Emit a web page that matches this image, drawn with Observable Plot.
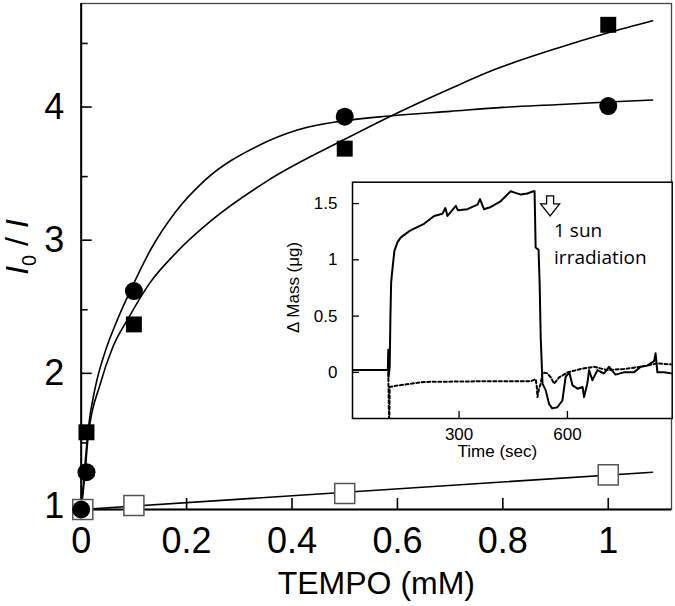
<!DOCTYPE html>
<html><head><meta charset="utf-8">
<script src="https://cdn.jsdelivr.net/npm/d3@7"></script>
<script src="https://cdn.jsdelivr.net/npm/@observablehq/plot@0.6"></script>
<style>
body{margin:0;background:#fff;}
#wrap{position:relative;width:675px;height:606px;overflow:hidden;}
#wrap svg{position:absolute;}
</style></head><body><div id="wrap"></div>
<script>
// ---- main chart data ----
const circleTempo = [0, 0.01, 0.1, 0.5, 1];
const circleRatio = [1.0, 1.28, 2.64, 3.95, 4.03];
const squareTempo = [0.01, 0.1, 0.5, 1];
const squareRatio = [1.58, 2.39, 3.71, 4.64];
const openTempo = [0.003, 0.1, 0.5, 1];
const openRatio = [1.0, 1.03, 1.12, 1.26];

const circleFitX = [0, 0.006, 0.0126, 0.028, 0.045, 0.066, 0.1, 0.133, 0.18, 0.234, 0.335, 0.41, 0.5, 0.585, 0.7, 0.8, 0.9, 1.0, 1.084];
const circleFitY = [1.0, 1.28, 1.58, 1.94, 2.18, 2.40, 2.70, 2.96, 3.24, 3.47, 3.73, 3.85, 3.92, 3.955, 3.99, 4.02, 4.04, 4.06, 4.075];
const squareFitX = [0, 0.007, 0.0135, 0.036, 0.06, 0.09, 0.13, 0.183, 0.25, 0.354, 0.5, 0.585, 0.7, 0.782, 0.9, 1.0, 1.084];
const squareFitY = [1.0, 1.26, 1.56, 1.94, 2.22, 2.44, 2.70, 2.94, 3.18, 3.47, 3.78, 3.95, 4.16, 4.30, 4.46, 4.58, 4.67];
const openFitX = [0, 1.084];
const openFitY = [1.0, 1.28];

const xTicks = [0, 0.2, 0.4, 0.6, 0.8, 1];
const xTickLabels = ["0", "0.2", "0.4", "0.6", "0.8", "1"];
const yTicks = [1, 2, 3, 4];
const yMinorTicks = [1.5, 2.5, 3.5, 4.5];
const xLabel = "TEMPO (mM)";

// ---- inset data ----
const solidTime = [5, 100, 103, 104, 105, 108, 110, 112, 116, 121, 130, 139, 160, 171, 203, 231, 254, 262, 268, 291, 297, 323, 351, 358, 369, 388, 415, 443, 452, 471, 489, 506, 509, 512, 520, 523, 526, 531, 540, 549, 558, 572, 586, 595, 605, 614, 628, 642, 646, 655, 660, 669, 683, 701, 715, 733, 756, 784, 803, 821, 840, 844, 849, 867, 890];
const solidMass = [0.02, 0.02, 0.03, 0.2, -0.04, 0.05, 0.5, 0.8, 0.93, 1.08, 1.16, 1.2, 1.25, 1.27, 1.32, 1.39, 1.41, 1.46, 1.39, 1.48, 1.44, 1.45, 1.49, 1.54, 1.45, 1.47, 1.52, 1.61, 1.6, 1.58, 1.59, 1.61, 1.61, 1.11, 1.09, 0.8, 0.31, -0.1, -0.16, -0.28, -0.32, -0.31, -0.25, -0.04, 0.0, -0.115, -0.145, -0.13, -0.22, -0.1, 0.02, -0.07, 0.02, -0.01, 0.05, -0.02, 0.0, 0.0, 0.05, 0.06, 0.1, 0.17, 0.0, 0.0, -0.01];
const dotTime = [5, 104, 106, 107, 108, 124, 203, 342, 498, 512, 515, 517, 521, 526, 531, 545, 555, 563, 577, 600, 637, 674, 710, 756, 803, 849, 890];
const dotMass = [0.02, 0.02, -0.41, -0.41, -0.13, -0.12, -0.085, -0.08, -0.08, -0.06, -0.12, -0.22, -0.15, -0.1, 0.0, -0.01, -0.05, -0.1, -0.045, 0.0, 0.03, 0.05, 0.02, 0.03, 0.05, 0.08, 0.07];
const insetXTicks = [300, 600];
const insetYTicks = [0, 0.5, 1, 1.5];
const insetYTickLabels = ["0", "0.5", "1", "1.5"];
const insetXLabel = "Time (sec)";
const insetYLabel = "Δ Mass (μg)";
const arrowAnnot = [{time: 552, mass: 1.48}];
const annotText = [{time: 563, mass: 1.26, label: "1 sun"}, {time: 563, mass: 1.02, label: "irradiation"}];

const zipXY = (xs, ys) => xs.map((x, i) => ({x, y: ys[i]}));

const font = "'Liberation Sans', Arial, Helvetica, sans-serif";

const main = Plot.plot({
  width: 675, height: 606,
  marginLeft: 80.7, marginRight: 4, marginTop: 3, marginBottom: 97,
  x: {domain: [0, 1.12]},
  y: {domain: [1, 4.8]},
  style: {fontFamily: font, fontSize: "36px", color: "#000", background: "#fff", overflow: "visible"},
  marks: [
    Plot.frame({stroke: "#444", strokeWidth: 1.3}),
    Plot.ruleX([0], {stroke: "#000", strokeWidth: 2}),
    Plot.ruleY([1], {stroke: "#000", strokeWidth: 2}),
    Plot.axisX({ticks: xTicks.slice(1), tickSize: -11, tickFormat: () => "", label: null, strokeWidth: 1.6}),
    Plot.axisX({ticks: xTicks, tickSize: 0, tickPadding: 18, tickFormat: d => xTickLabels[xTicks.indexOf(d)], label: null}),
    Plot.axisY({ticks: yTicks, tickSize: -11, tickPadding: 28, tickFormat: d => String(d), label: null, strokeWidth: 1.6, dy: -3}),
    Plot.axisY({ticks: yMinorTicks, tickSize: -7, tickFormat: () => "", label: null, strokeWidth: 1.6}),
    Plot.text([xLabel], {frameAnchor: "bottom", lineAnchor: "middle", dy: 74, fontSize: 32, text: d => d}),
    Plot.line(zipXY(openFitX, openFitY), {x: "x", y: "y", stroke: "#000", strokeWidth: 1.6}),
    Plot.line(zipXY(circleFitX, circleFitY), {x: "x", y: "y", curve: "monotone-x", stroke: "#000", strokeWidth: 1.6}),
    Plot.line(zipXY(squareFitX, squareFitY), {x: "x", y: "y", curve: "monotone-x", stroke: "#000", strokeWidth: 1.6}),
    Plot.dot(zipXY(openTempo, openRatio), {x: "x", y: "y", symbol: "square", r: 11.3, fill: "#fff", stroke: "#555", strokeWidth: 1.5}),
    Plot.dot(zipXY(squareTempo, squareRatio), {x: "x", y: "y", symbol: "square", r: 9.0, fill: "#000"}),
    Plot.dot(zipXY(circleTempo, circleRatio), {x: "x", y: "y", symbol: "circle", r: 9, fill: "#000"})
  ]
});

// y axis label I0 / I
const ms = d3.select(main);
const yl = ms.append("text")
  .attr("transform", "translate(28,247) rotate(-90)")
  .attr("text-anchor", "middle")
  .style("font-family", font).style("font-size", "32px").attr("fill", "#000");
yl.append("tspan").style("font-style", "italic").text("I");
yl.append("tspan").attr("dy", 8).style("font-size", "20px").text("0");
yl.append("tspan").attr("dy", -8).text(" / ");
yl.append("tspan").style("font-style", "italic").text("I");

const arrowSymbol = {
  draw(context) {
    context.moveTo(-3.5, -10);
    context.lineTo(3.5, -10);
    context.lineTo(3.5, -2);
    context.lineTo(9.5, -2);
    context.lineTo(0, 10);
    context.lineTo(-9.5, -2);
    context.lineTo(-3.5, -2);
    context.closePath();
  }
};

const inset = Plot.plot({
  width: 389, height: 290,
  marginLeft: 66, marginRight: 3.3, marginTop: 5.7, marginBottom: 48,
  x: {domain: [5, 890]},
  y: {domain: [-0.41, 1.69]},
  style: {fontFamily: font, fontSize: "17px", color: "#000", background: "transparent", overflow: "visible"},
  marks: [
    Plot.frame({fill: "#fff", stroke: "#000", strokeWidth: 1.5}),
    Plot.axisX({ticks: insetXTicks, tickSize: -7, tickPadding: 16, label: null, strokeWidth: 1.3}),
    Plot.axisY({ticks: insetYTicks, tickSize: -7, tickPadding: 22, tickFormat: d => insetYTickLabels[insetYTicks.indexOf(d)], label: null, strokeWidth: 1.3}),
    Plot.text([insetXLabel], {frameAnchor: "bottom", lineAnchor: "middle", textAnchor: "middle", dy: 33.5, dx: -15, text: d => d}),
    Plot.text([insetYLabel], {frameAnchor: "left", lineAnchor: "middle", textAnchor: "middle", dx: -59, dy: -13, rotate: -90, text: d => d}),
    Plot.line(zipXY(dotTime, dotMass), {x: "x", y: "y", stroke: "#000", strokeWidth: 2, strokeDasharray: "3,2.5", clip: true}),
    Plot.line(zipXY(solidTime, solidMass), {x: "x", y: "y", stroke: "#000", strokeWidth: 2, clip: true}),
    Plot.dot(arrowAnnot, {x: "time", y: "mass", symbol: arrowSymbol, r: 5, fill: "#fff", stroke: "#000", strokeWidth: 1.3}),
    Plot.text(annotText, {x: "time", y: "mass", text: "label", textAnchor: "start", fontSize: 19, fontFamily: "'Open Sans', 'Noto Sans', sans-serif"})
  ]
});

const wrap = document.getElementById("wrap");
main.style.left = "0px"; main.style.top = "0px";
inset.style.left = "286px"; inset.style.top = "176px";
wrap.appendChild(main);
wrap.appendChild(inset);
</script>
</body></html>
